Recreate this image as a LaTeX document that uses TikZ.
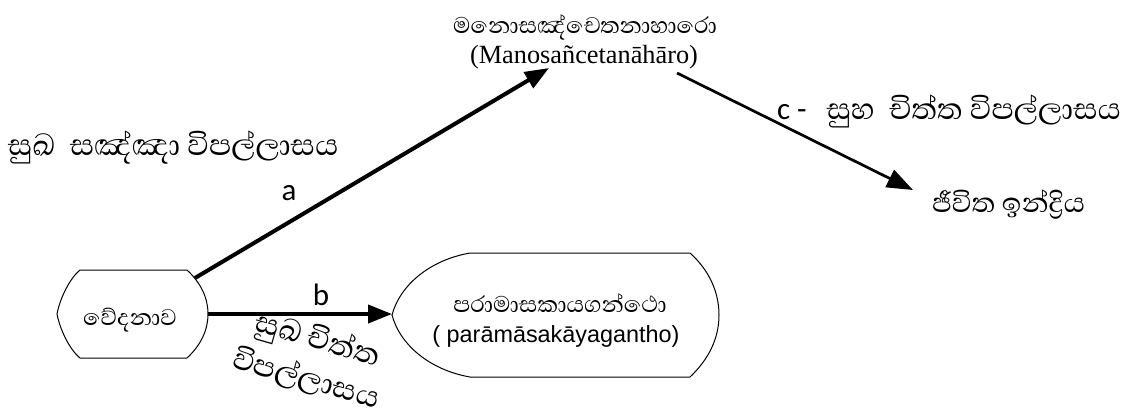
\documentclass[tikz,border=0pt]{standalone}
\usepackage{fontspec}
\usetikzlibrary{arrows.meta}
\newfontfamily\sinhfont[Script=Sinhala]{Abhaya Libre}
\newfontfamily\tmsfont{Liberation Serif}
\newfontfamily\arsfont{Liberation Sans}
\newfontfamily\calfont{Carlito}
\begin{document}
\begin{tikzpicture}[x=1pt,y=-1pt,
  shapeline/.style={draw=black,line width=1pt},
  thickarrow/.style={line width=4pt,-{Triangle[length=24pt,width=18pt]}},
  thinarrow/.style={line width=2.7pt,-{Triangle[length=26pt,width=19pt]}},
  lbl/.style={inner sep=0pt,outer sep=0pt},
  bigsinh/.style={font=\sinhfont\fontsize{38}{38}\selectfont},
  smallsinh/.style={font=\sinhfont\fontsize{29}{32}\selectfont},
  letter/.style={font=\calfont\fontsize{31}{31}\selectfont}]
\useasboundingbox (0,0) rectangle (1142,416);
% shapes
\draw[shapeline] (80,270) -- (187,270) .. controls (201,283) and (208,298) .. (208,314)
  .. controls (208,330) and (201,345) .. (187,358) -- (80,358)
  .. controls (70,350) and (60,330) .. (57,314) .. controls (60,298) and (70,278) .. (80,270) -- cycle;
\draw[shapeline] (470,253) -- (690,253) .. controls (709,270) and (719,292) .. (719,315)
  .. controls (719,338) and (709,359) .. (690,377) -- (470,377)
  .. controls (430,370) and (400,345) .. (392,315) .. controls (400,285) and (430,260) .. (470,253) -- cycle;
% nodes
\node[lbl,smallsinh,anchor=base] (ved) at (130,325) {වේදනාව};
\node[lbl,smallsinh,anchor=base] (para) at (560,312) {පරාමාසකායගන්ථො};
\node[lbl,font=\arsfont\fontsize{23.4}{26}\selectfont,anchor=base] (paralat) at (556,342) {( parāmāsakāyagantho)};
\node[lbl,smallsinh,anchor=base] (mano) at (585,33) {මනොසඤ්චෙතනාහාරො};
\node[lbl,font=\tmsfont\fontsize{26.3}{28}\selectfont,anchor=base] (manolat) at (584,63) {(Manosañcetanāhāro)};
\node[lbl,font=\sinhfont\fontsize{35}{38}\selectfont,anchor=base west] (jiv) at (932,212) {ජීවිත ඉන්ද්^^^^200dරිය};
\node[lbl,bigsinh,anchor=base west] (lefttxt) at (8,155) {සුඛ\ \ සඤ්ඤා විපල්ලාසය};
\node[lbl,anchor=base west] (ctxt) at (777,119) {{\calfont\fontsize{31}{31}\selectfont c -}\hspace{20pt}{\sinhfont\fontsize{38}{38}\selectfont සුහ\ \ චිත්ත විපල්ලාසය}};
\node[lbl,font=\sinhfont\fontsize{38}{41}\selectfont,align=center,rotate=-16] (btxt) at (312,359) {සුඛ චිත්ත\\විපල්ලාසය};
\node[lbl,letter,anchor=base] (la) at (289,200) {a};
\node[lbl,letter,anchor=base] (lb) at (321,305) {b};
% connector end points
\coordinate (vedNE) at (195,278);
\coordinate (vedE) at (208,314);
\coordinate (paraW) at (392,314);
\coordinate (manoSW) at (549,68);
\coordinate (manoSE) at (677,73);
\coordinate (jivNW) at (913,190);
\draw[thickarrow] (vedNE) -- (manoSW);
\draw[thickarrow] (vedE) -- (paraW);
\draw[thinarrow] (manoSE) -- (jivNW);
\end{tikzpicture}
\end{document}
